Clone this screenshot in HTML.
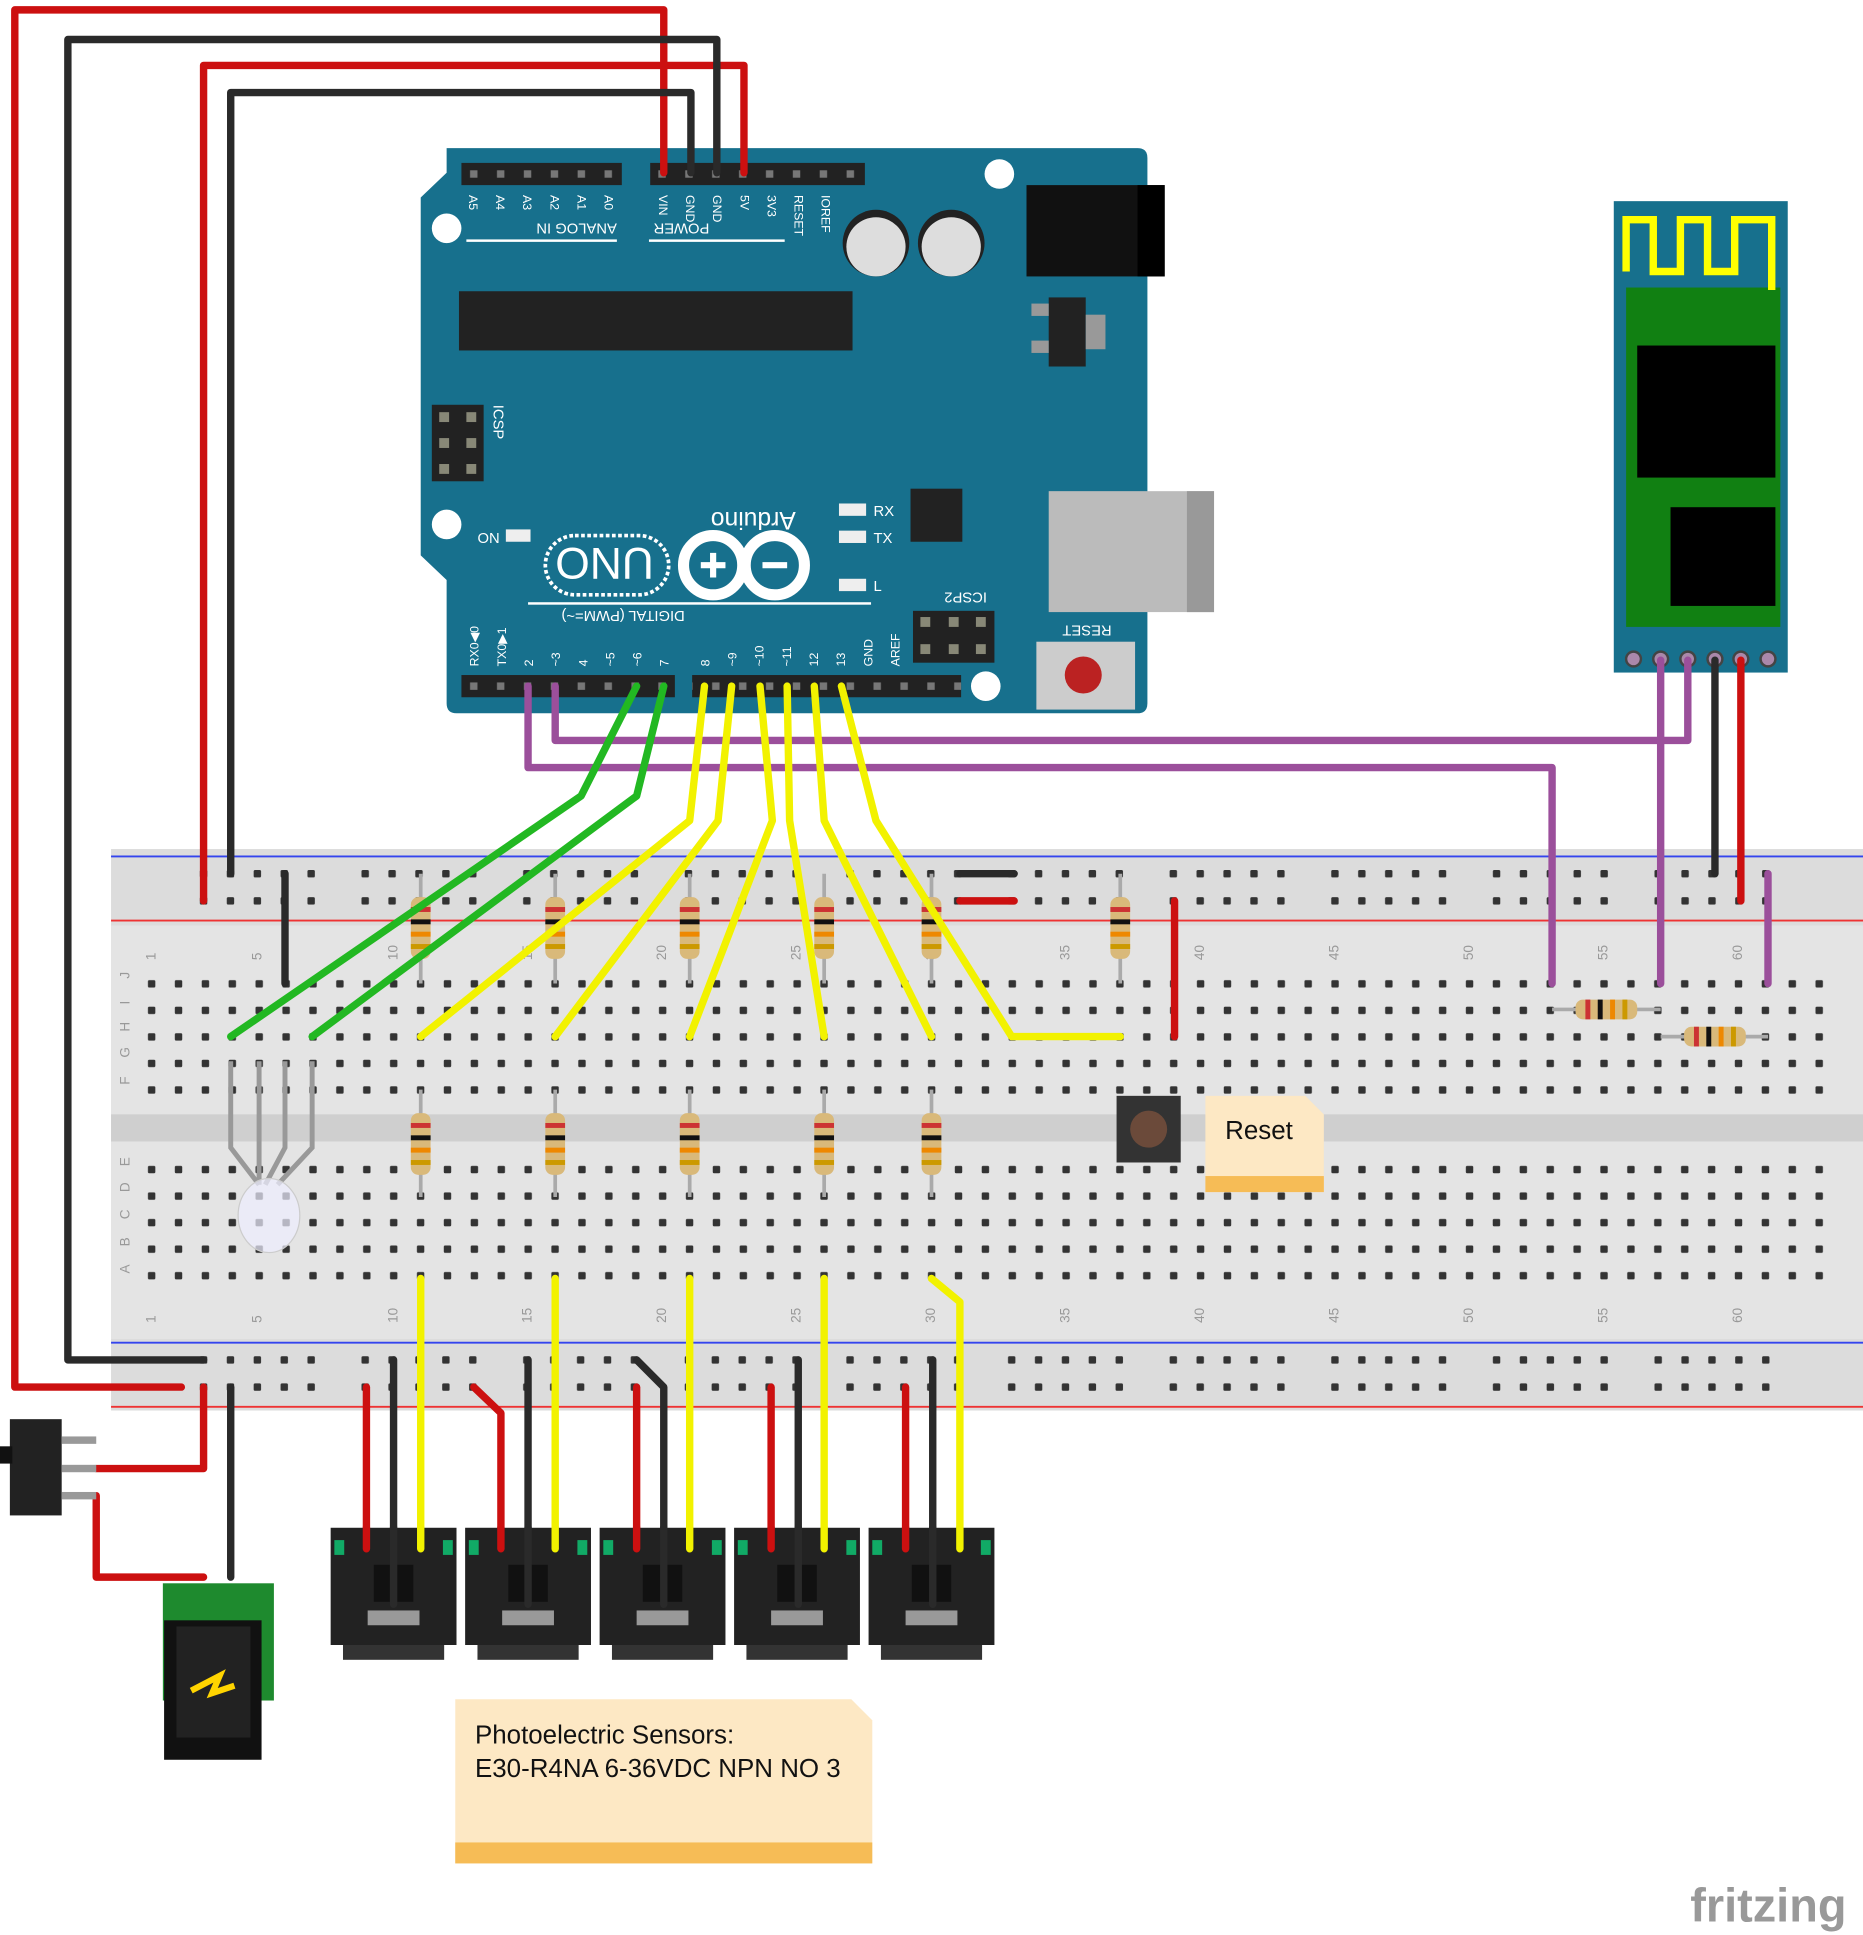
<!DOCTYPE html>
<html><head><meta charset="utf-8"><style>
html,body{margin:0;padding:0;background:#fff;}
svg{display:block;}
text{font-family:"Liberation Sans",sans-serif;}
</style></head><body>
<svg width="1863" height="1935" viewBox="0 0 1510 1568" preserveAspectRatio="none" xmlns="http://www.w3.org/2000/svg" xmlns:xlink="http://www.w3.org/1999/xlink">
<defs>
<pattern id="grid" patternUnits="userSpaceOnUse" x="112" y="786.5" width="21.8" height="21.5"><rect x="7.9" y="7.75" width="6" height="6" rx="1" fill="#333"/></pattern>
<pattern id="rail" patternUnits="userSpaceOnUse" x="154.1" y="697" width="131" height="22"><g fill="#333"><rect x="7.9" y="8" width="6" height="6" rx="1"/><rect x="29.7" y="8" width="6" height="6" rx="1"/><rect x="51.5" y="8" width="6" height="6" rx="1"/><rect x="73.3" y="8" width="6" height="6" rx="1"/><rect x="95.1" y="8" width="6" height="6" rx="1"/></g></pattern>
<pattern id="rail2" patternUnits="userSpaceOnUse" x="154.1" y="1091" width="131" height="22"><g fill="#333"><rect x="7.9" y="8" width="6" height="6" rx="1"/><rect x="29.7" y="8" width="6" height="6" rx="1"/><rect x="51.5" y="8" width="6" height="6" rx="1"/><rect x="73.3" y="8" width="6" height="6" rx="1"/><rect x="95.1" y="8" width="6" height="6" rx="1"/></g></pattern>
<pattern id="pin" patternUnits="userSpaceOnUse" x="373.1" y="130" width="21.8" height="22"><rect x="7.9" y="8" width="6" height="6" fill="#777"/></pattern>
<pattern id="pinb" patternUnits="userSpaceOnUse" x="373.1" y="545" width="21.8" height="22"><rect x="7.9" y="8" width="6" height="6" fill="#777"/></pattern>
<g id="vr"><rect x="-8" y="-25" width="16" height="50" rx="6" fill="#d9b97a"/><rect x="-8" y="-17" width="16" height="4" fill="#c33"/><rect x="-8" y="-7" width="16" height="4" fill="#111"/><rect x="-8" y="3" width="16" height="4" fill="#e80"/><rect x="-8" y="13" width="16" height="4" fill="#c90"/></g>
<g id="jk"><rect x="0" y="0" width="102" height="95" fill="#222"/><rect x="10" y="95" width="82" height="12" fill="#333"/><rect x="30" y="67" width="42" height="12" fill="#999"/><rect x="35" y="30" width="32" height="30" fill="#111"/><rect x="3" y="10" width="8" height="12" fill="#1a6"/><rect x="91" y="10" width="8" height="12" fill="#1a6"/></g>
</defs>
<rect width="1510" height="1568" fill="#fff"/>
<rect x="90" y="688" width="1420" height="455" fill="#dcdcdc"/>
<rect x="90" y="750" width="1420" height="335" fill="#e4e4e4"/>
<rect x="90" y="903" width="1420" height="22" fill="#cfcfcf"/>
<line x1="90" y1="694" x2="1510" y2="694" stroke="#3344ee" stroke-width="1.5"/>
<line x1="90" y1="746" x2="1510" y2="746" stroke="#ee3333" stroke-width="1.5"/>
<line x1="90" y1="1088" x2="1510" y2="1088" stroke="#3344ee" stroke-width="1.5"/>
<line x1="90" y1="1140" x2="1510" y2="1140" stroke="#ee3333" stroke-width="1.5"/>
<rect x="112" y="786.5" width="1377" height="107.5" fill="url(#grid)"/>
<rect x="112" y="938.5" width="1377" height="107.5" fill="url(#grid)"/>
<rect x="154" y="697" width="1310" height="44" fill="url(#rail)"/>
<rect x="154" y="1091" width="1310" height="44" fill="url(#rail2)"/>
<g font-size="11" fill="#999">
<text x="126" y="778" transform="rotate(-90 126 778)">1</text>
<text x="212" y="778" transform="rotate(-90 212 778)">5</text>
<text x="322" y="778" transform="rotate(-90 322 778)">10</text>
<text x="431" y="778" transform="rotate(-90 431 778)">15</text>
<text x="540" y="778" transform="rotate(-90 540 778)">20</text>
<text x="649" y="778" transform="rotate(-90 649 778)">25</text>
<text x="758" y="778" transform="rotate(-90 758 778)">30</text>
<text x="867" y="778" transform="rotate(-90 867 778)">35</text>
<text x="976" y="778" transform="rotate(-90 976 778)">40</text>
<text x="1085" y="778" transform="rotate(-90 1085 778)">45</text>
<text x="1194" y="778" transform="rotate(-90 1194 778)">50</text>
<text x="1303" y="778" transform="rotate(-90 1303 778)">55</text>
<text x="1412" y="778" transform="rotate(-90 1412 778)">60</text>
<text x="126" y="1072" transform="rotate(-90 126 1072)">1</text>
<text x="212" y="1072" transform="rotate(-90 212 1072)">5</text>
<text x="322" y="1072" transform="rotate(-90 322 1072)">10</text>
<text x="431" y="1072" transform="rotate(-90 431 1072)">15</text>
<text x="540" y="1072" transform="rotate(-90 540 1072)">20</text>
<text x="649" y="1072" transform="rotate(-90 649 1072)">25</text>
<text x="758" y="1072" transform="rotate(-90 758 1072)">30</text>
<text x="867" y="1072" transform="rotate(-90 867 1072)">35</text>
<text x="976" y="1072" transform="rotate(-90 976 1072)">40</text>
<text x="1085" y="1072" transform="rotate(-90 1085 1072)">45</text>
<text x="1194" y="1072" transform="rotate(-90 1194 1072)">50</text>
<text x="1303" y="1072" transform="rotate(-90 1303 1072)">55</text>
<text x="1412" y="1072" transform="rotate(-90 1412 1072)">60</text>
<text x="105" y="801" transform="rotate(-90 101 797)">J</text><text x="105" y="822" transform="rotate(-90 101 818)">I</text><text x="105" y="844" transform="rotate(-90 101 840)">H</text><text x="105" y="865" transform="rotate(-90 101 861)">G</text><text x="105" y="887" transform="rotate(-90 101 883)">F</text>
<text x="105" y="953" transform="rotate(-90 101 949)">E</text><text x="105" y="974" transform="rotate(-90 101 970)">D</text><text x="105" y="996" transform="rotate(-90 101 992)">C</text><text x="105" y="1018" transform="rotate(-90 101 1014)">B</text><text x="105" y="1040" transform="rotate(-90 101 1036)">A</text>
</g>
<path d="M362 120 H922 Q930 120 930 128 V570 Q930 578 922 578 H370 Q362 578 362 570 V470 L341 450 V160 L362 140 Z" fill="#17708d"/>
<rect x="374" y="132" width="130" height="18" fill="#222"/>
<rect x="527" y="132" width="174" height="18" fill="#222"/>
<rect x="374" y="547" width="173" height="18" fill="#222"/>
<rect x="561" y="547" width="218" height="18" fill="#222"/>
<rect x="374" y="132" width="130" height="18" fill="url(#pin)"/>
<rect x="527" y="132" width="174" height="18" fill="url(#pin)"/>
<rect x="374" y="547" width="173" height="18" fill="url(#pinb)"/>
<rect x="561" y="547" width="218" height="18" fill="url(#pinb)"/>
<rect x="372" y="236" width="319" height="48" fill="#222"/>
<circle cx="362" cy="185" r="12" fill="#fff"/><circle cx="810" cy="141" r="12" fill="#fff"/>
<circle cx="362" cy="425" r="12" fill="#fff"/><circle cx="799" cy="556" r="12" fill="#fff"/>
<circle cx="710" cy="197" r="27" fill="#222"/><circle cx="710" cy="200" r="24" fill="#ddd"/>
<circle cx="771" cy="197" r="27" fill="#222"/><circle cx="771" cy="200" r="24" fill="#ddd"/>
<rect x="832" y="150" width="112" height="74" fill="#111"/><rect x="922" y="150" width="22" height="74" fill="#000"/>
<rect x="850" y="241" width="30" height="56" fill="#222"/><rect x="880" y="255" width="16" height="28" fill="#999"/><rect x="836" y="246" width="14" height="10" fill="#999"/><rect x="836" y="276" width="14" height="10" fill="#999"/>
<rect x="850" y="398" width="134" height="98" fill="#bbb"/><rect x="962" y="398" width="22" height="98" fill="#999"/>
<rect x="738" y="396" width="42" height="43" fill="#222"/>
<rect x="350" y="328" width="42" height="62" fill="#222"/><rect x="740" y="495" width="66" height="42" fill="#222"/>
<g fill="#887"><rect x="356" y="334" width="8" height="8"/><rect x="378" y="334" width="8" height="8"/><rect x="356" y="355" width="8" height="8"/><rect x="378" y="355" width="8" height="8"/><rect x="356" y="376" width="8" height="8"/><rect x="378" y="376" width="8" height="8"/>
<rect x="746" y="500" width="8" height="8"/><rect x="769" y="500" width="8" height="8"/><rect x="791" y="500" width="8" height="8"/><rect x="746" y="522" width="8" height="8"/><rect x="769" y="522" width="8" height="8"/><rect x="791" y="522" width="8" height="8"/></g>
<rect x="840" y="520" width="80" height="55" fill="#ccc"/><circle cx="878" cy="547" r="15" fill="#b22"/>
<g fill="#eee"><rect x="680" y="408" width="22" height="10"/><rect x="680" y="430" width="22" height="10"/><rect x="680" y="469" width="22" height="10"/><rect x="410" y="429" width="20" height="10"/></g>
<g fill="#fff" font-family="Liberation Mono,monospace" font-size="12">
<text x="387" y="440">ON</text>
<text x="708" y="418">RX</text><text x="708" y="440">TX</text><text x="708" y="479">L</text>
<text transform="rotate(180 600 420)" x="555" y="425" font-size="20">Arduino</text>
<text transform="rotate(180 440 186)" x="380" y="191">ANALOG IN</text>
<text transform="rotate(180 550 186)" x="525" y="191">POWER</text>
<text transform="rotate(180 490 500)" x="425" y="505">DIGITAL (PWM=~)</text>
<text transform="rotate(180 780 485)" x="760" y="490">ICSP2</text>
<text transform="rotate(180 878 512)" x="855" y="517">RESET</text>
<text transform="rotate(90 400 328)" x="400" y="328">ICSP</text>
</g>
<g fill="#fff" font-family="Liberation Mono,monospace" font-size="10">
<text transform="rotate(90 380 158)" x="380" y="158">A5</text><text transform="rotate(90 402 158)" x="402" y="158">A4</text><text transform="rotate(90 424 158)" x="424" y="158">A3</text><text transform="rotate(90 446 158)" x="446" y="158">A2</text><text transform="rotate(90 468 158)" x="468" y="158">A1</text><text transform="rotate(90 490 158)" x="490" y="158">A0</text>
<text transform="rotate(90 534 158)" x="534" y="158">VIN</text><text transform="rotate(90 556 158)" x="556" y="158">GND</text><text transform="rotate(90 578 158)" x="578" y="158">GND</text><text transform="rotate(90 600 158)" x="600" y="158">5V</text><text transform="rotate(90 622 158)" x="622" y="158">3V3</text><text transform="rotate(90 644 158)" x="644" y="158">RESET</text><text transform="rotate(90 666 158)" x="666" y="158">IOREF</text>
<text transform="rotate(-90 388 540)" x="388" y="540">RX0◀0</text><text transform="rotate(-90 410 540)" x="410" y="540">TX0▶1</text><text transform="rotate(-90 432 540)" x="432" y="540">2</text><text transform="rotate(-90 454 540)" x="454" y="540">~3</text><text transform="rotate(-90 476 540)" x="476" y="540">4</text><text transform="rotate(-90 498 540)" x="498" y="540">~5</text><text transform="rotate(-90 520 540)" x="520" y="540">~6</text><text transform="rotate(-90 542 540)" x="542" y="540">7</text>
<text transform="rotate(-90 575 540)" x="575" y="540">8</text><text transform="rotate(-90 597 540)" x="597" y="540">~9</text><text transform="rotate(-90 619 540)" x="619" y="540">~10</text><text transform="rotate(-90 641 540)" x="641" y="540">~11</text><text transform="rotate(-90 663 540)" x="663" y="540">12</text><text transform="rotate(-90 685 540)" x="685" y="540">13</text><text transform="rotate(-90 707 540)" x="707" y="540">GND</text><text transform="rotate(-90 729 540)" x="729" y="540">AREF</text>
</g>
<rect x="442" y="434" width="100" height="48" rx="24" fill="none" stroke="#fff" stroke-width="3" stroke-dasharray="3 2"/>
<text x="450" y="472" fill="#fff" font-size="36" transform="rotate(180 490 458)">UNO</text>
<circle cx="578" cy="458" r="24" fill="none" stroke="#fff" stroke-width="9"/><circle cx="628" cy="458" r="24" fill="none" stroke="#fff" stroke-width="9"/>
<path d="M568 458 H588 M578 448 V468 M618 458 H638" stroke="#fff" stroke-width="5"/>
<rect x="378" y="194" width="122" height="2" fill="#fff"/><rect x="526" y="194" width="110" height="2" fill="#fff"/><rect x="428" y="488" width="278" height="2" fill="#fff"/>
<rect x="1308" y="163" width="141" height="382" fill="#17708d"/>
<rect x="1318" y="233" width="125" height="275" fill="#118012"/>
<path d="M1318 220 V178 H1340 V220 H1362 V178 H1384 V220 H1406 V178 H1436 V235" fill="none" stroke="#ff0" stroke-width="6"/>
<rect x="1327" y="280" width="112" height="107" fill="#000"/><rect x="1354" y="411" width="85" height="80" fill="#000"/>
<g fill="#a8a" stroke="#444" stroke-width="2"><circle cx="1324" cy="534" r="6"/><circle cx="1346" cy="534" r="6"/><circle cx="1368" cy="534" r="6"/><circle cx="1390" cy="534" r="6"/><circle cx="1411" cy="534" r="6"/><circle cx="1433" cy="534" r="6"/></g>
<g stroke="#aaa" stroke-width="3">
<line x1="341" y1="708" x2="341" y2="797"/><line x1="450" y1="708" x2="450" y2="797"/><line x1="559" y1="708" x2="559" y2="797"/><line x1="668" y1="708" x2="668" y2="797"/><line x1="755" y1="708" x2="755" y2="797"/><line x1="908" y1="708" x2="908" y2="797"/>
<line x1="341" y1="883" x2="341" y2="970"/><line x1="450" y1="883" x2="450" y2="970"/><line x1="559" y1="883" x2="559" y2="970"/><line x1="668" y1="883" x2="668" y2="970"/><line x1="755" y1="883" x2="755" y2="970"/>
<line x1="1258" y1="818" x2="1346" y2="818"/><line x1="1346" y1="840" x2="1433" y2="840"/>
</g>
<use xlink:href="#vr" transform="translate(341 752)"/><use xlink:href="#vr" transform="translate(450 752)"/><use xlink:href="#vr" transform="translate(559 752)"/><use xlink:href="#vr" transform="translate(668 752)"/><use xlink:href="#vr" transform="translate(755 752)"/><use xlink:href="#vr" transform="translate(908 752)"/>
<use xlink:href="#vr" transform="translate(341 927)"/><use xlink:href="#vr" transform="translate(450 927)"/><use xlink:href="#vr" transform="translate(559 927)"/><use xlink:href="#vr" transform="translate(668 927)"/><use xlink:href="#vr" transform="translate(755 927)"/>
<use xlink:href="#vr" transform="translate(1302 818) rotate(-90)"/><use xlink:href="#vr" transform="translate(1390 840) rotate(-90)"/>
<g fill="none" stroke-linejoin="round" stroke-linecap="round" stroke-width="6">
<g stroke="#cc1010">
<path d="M538 140 V8 H12 V1124 H147"/><path d="M603 140 V53 H165 V730"/>
<path d="M1411 535 V730"/><path d="M952 730 V840"/><path d="M778 730 H822"/>
<path d="M297 1124 V1255"/><path d="M384 1124 L406 1145 V1255"/><path d="M516 1124 V1255"/><path d="M625 1124 V1255"/><path d="M734 1124 V1255"/>
<path d="M78 1190 H165 V1124"/><path d="M78 1212 V1278 H165"/>
</g>
<g stroke="#2a2a2a">
<path d="M581 140 V32 H55 V1102 H165"/><path d="M560 140 V75 H187 V708"/>
<path d="M1390 535 V708"/><path d="M231 708 V797"/><path d="M778 708 H822"/>
<path d="M319 1102 V1300"/><path d="M428 1102 V1300"/><path d="M516 1102 L538 1124 V1300"/><path d="M647 1102 V1300"/><path d="M756 1102 V1300"/>
<path d="M187 1124 V1278"/>
</g>
<g stroke="#9b4f9b">
<path d="M428 556 V622 H1258 V797"/><path d="M450 556 V600 H1368 V535"/><path d="M1346 535 V797"/><path d="M1433 708 V797"/>
</g>
<g stroke="#22b822">
<path d="M516 556 L471 645 L187 840"/><path d="M538 556 L516 645 L253 840"/>
</g>
<g stroke="#f2f200">
<path d="M571 556 L559 665 L341 840"/><path d="M593 556 L582 665 L450 840"/><path d="M616 556 L626 665 L559 840"/><path d="M638 556 L640 665 L668 840"/><path d="M660 556 L668 665 L755 840"/><path d="M682 556 L710 665 L820 840 H908"/>
<path d="M341 1036 V1255"/><path d="M450 1036 V1255"/><path d="M559 1036 V1255"/><path d="M668 1036 V1255"/><path d="M755 1036 L778 1055 V1255"/>
</g>
</g>
<g stroke="#999" stroke-width="4" fill="none"><path d="M187 860 V930 L210 960"/><path d="M210 860 V960"/><path d="M231 860 V930 L215 960"/><path d="M253 860 V930 L225 960"/></g>
<ellipse cx="218" cy="985" rx="25" ry="30" fill="#eef" fill-opacity="0.7" stroke="#ccc"/>
<rect x="905" y="888" width="52" height="54" fill="#333"/><circle cx="931" cy="915" r="15" fill="#6b4a3a"/>
<path d="M977 888 H1058 L1073 903 V966 H977 Z" fill="#fde8c4"/><rect x="977" y="953" width="96" height="13" fill="#f6bc56"/>
<text x="993" y="923" font-size="21" fill="#111">Reset</text>
<path d="M369 1377 H690 L707 1394 V1510 H369 Z" fill="#fde8c4"/><rect x="369" y="1493" width="338" height="17" fill="#f6bc56"/>
<text x="385" y="1413" font-size="21" fill="#111">Photoelectric Sensors:</text>
<text x="385" y="1440" font-size="21" fill="#111">E30-R4NA 6-36VDC NPN NO 3</text>
<use xlink:href="#jk" transform="translate(268 1238)"/><use xlink:href="#jk" transform="translate(377 1238)"/><use xlink:href="#jk" transform="translate(486 1238)"/><use xlink:href="#jk" transform="translate(595 1238)"/><use xlink:href="#jk" transform="translate(704 1238)"/>
<g fill="none" stroke-width="6" stroke-linecap="round">
<path d="M297 1238 V1255 M406 1238 V1255 M516 1238 V1255 M625 1238 V1255 M734 1238 V1255" stroke="#cc1010"/>
<path d="M319 1238 V1300 M428 1238 V1300 M538 1238 V1300 M647 1238 V1300 M756 1238 V1300" stroke="#2a2a2a"/>
<path d="M341 1238 V1255 M450 1238 V1255 M559 1238 V1255 M668 1238 V1255 M778 1238 V1255" stroke="#f2f200"/>
</g>
<rect x="8" y="1150" width="42" height="78" fill="#222"/><rect x="0" y="1172" width="10" height="14" fill="#111"/>
<g fill="#999"><rect x="50" y="1164" width="28" height="6"/><rect x="50" y="1187" width="28" height="6"/><rect x="50" y="1209" width="28" height="6"/></g>
<rect x="132" y="1283" width="90" height="95" fill="#1e8a2e"/>
<rect x="133" y="1313" width="79" height="113" fill="#111"/><rect x="143" y="1318" width="60" height="90" fill="#222"/>
<path d="M155 1370 L178 1358 L172 1372 L190 1366" stroke="#ffd400" stroke-width="5" fill="none"/>
<text x="1370" y="1557" font-size="38" fill="#999" font-weight="bold">fritzing</text>
</svg>
</body></html>
